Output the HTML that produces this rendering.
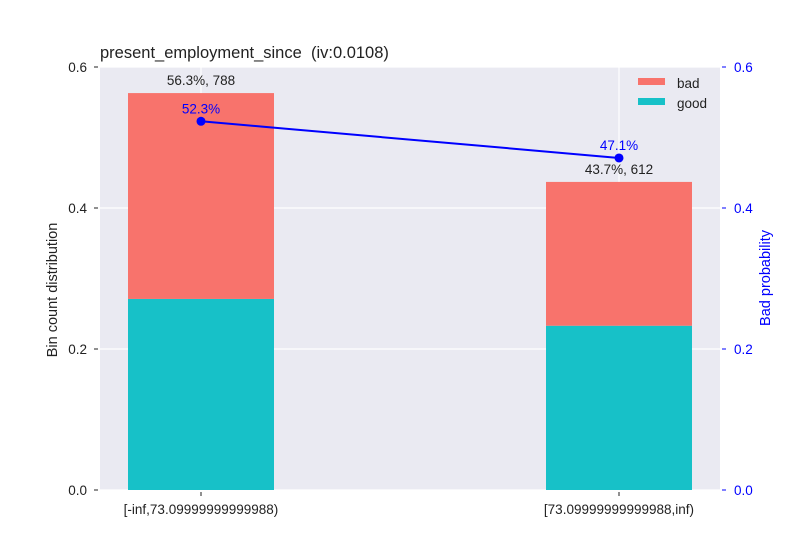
<!DOCTYPE html>
<html><head><meta charset="utf-8"><style>body{margin:0;background:#fff}svg{font-family:"Liberation Sans",sans-serif}</style></head>
<body>
<svg id="c" width="800" height="550"></svg>
<script>
const categories=["[-inf,73.09999999999988)","[73.09999999999988,inf)"];
const goodVals=[0.271,0.233];
const badVals=[0.292,0.204];
const countLabels=["56.3%, 788","43.7%, 612"];
const badProb=[0.523,0.471];
const probLabels=["52.3%","47.1%"];
const yTicks=[0,0.2,0.4,0.6];
const yTickLabels=["0.0","0.2","0.4","0.6"];
const L=100,R=720,T=67,B=490;
const y=v=>B-(v/0.6)*(B-T);
const x=i=>201+i*418;
const bw=146;
const ns="http://www.w3.org/2000/svg";
const svg=document.getElementById('c');
function mk(t,a,txt){const e=document.createElementNS(ns,t);for(const k in a)e.setAttribute(k,a[k]);if(txt!==undefined)e.textContent=txt;svg.appendChild(e);return e;}
let e=mk('rect',{x:L,y:T,width:R-L,height:B-T,fill:'#eaeaf2'});

yTicks.forEach((t,i)=>{
 e=mk('line',{x1:L,x2:R,y1:y(t),y2:y(t),stroke:'#fff','stroke-width':1.2});
 
 e=mk('line',{x1:L-6,x2:L-2,y1:y(t),y2:y(t),stroke:'#222'});
 
 e=mk('text',{x:L-13,y:y(t)+5,'text-anchor':'end','font-size':13.5,fill:'#222'},yTickLabels[i]);
 
 e=mk('line',{x1:R+2,x2:R+6,y1:y(t),y2:y(t),stroke:'#00f'});
 
 e=mk('text',{x:R+14,y:y(t)+5,'font-size':13.5,fill:'#00f'},yTickLabels[i]);
 
});
categories.forEach((c,i)=>{
 e=mk('line',{x1:x(i),x2:x(i),y1:T,y2:B,stroke:'#fff','stroke-width':1.2});
 
});
categories.forEach((c,i)=>{
 e=mk('rect',{x:x(i)-bw/2,y:y(goodVals[i]),width:bw,height:B-y(goodVals[i]),fill:'#17c1c8'});
 
 const tot=goodVals[i]+badVals[i];
 e=mk('rect',{x:x(i)-bw/2,y:y(tot),width:bw,height:y(goodVals[i])-y(tot),fill:'#f8736c'});
 
 e=mk('text',{x:x(i),y:y(tot)-8,'text-anchor':'middle','font-size':13.5,fill:'#222'},countLabels[i]);
 
 e=mk('line',{x1:x(i),x2:x(i),y1:B+2,y2:B+6,stroke:'#222'});
 
 e=mk('text',{x:x(i),y:B+24,'text-anchor':'middle','font-size':13.5,fill:'#222'},c);
 
});
e=mk('polyline',{points:badProb.map((p,i)=>x(i)+','+y(p)).join(' '),fill:'none',stroke:'#00f','stroke-width':2});

badProb.forEach((p,i)=>{
 e=mk('circle',{cx:x(i),cy:y(p),r:4.5,fill:'#00f'});
 
 e=mk('text',{x:x(i),y:y(p)-8,'text-anchor':'middle','font-size':13.5,fill:'#00f'},probLabels[i]);
 
});
e=mk('rect',{x:638,y:78,width:27,height:7,fill:'#f8736c'});
e=mk('text',{x:677,y:88,'font-size':13.5,fill:'#222'},'bad');
e=mk('rect',{x:638,y:98,width:27,height:7,fill:'#17c1c8'});
e=mk('text',{x:677,y:108,'font-size':13.5,fill:'#222'},'good');
e=mk('text',{x:100,y:58,'font-size':16.5,fill:'#222'},'present_employment_since  (iv:0.0108)');
e.setAttribute('xml:space','preserve');e.style.whiteSpace='pre';
e=mk('text',{x:0,y:0,'font-size':14.5,fill:'#222','text-anchor':'middle',transform:'translate(57,290) rotate(-90)'},'Bin count distribution');
e=mk('text',{x:0,y:0,'font-size':14.5,fill:'#00f','text-anchor':'middle',transform:'translate(770,278) rotate(-90)'},'Bad probability');
</script>
</body></html>
